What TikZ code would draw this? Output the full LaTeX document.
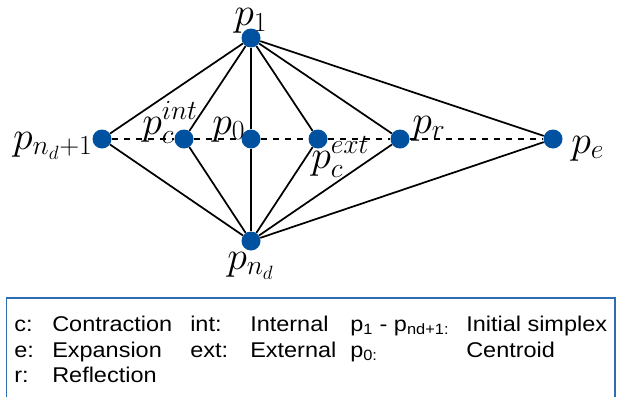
\documentclass[tikz,border=0pt]{standalone}
\usepackage{fontspec}
\newfontfamily\legendfont[FakeStretch=1.1]{Liberation Sans}
\definecolor{dotblue}{HTML}{0052A0}
\definecolor{boxblue}{HTML}{2E6DB4}
\newcommand{\bigmath}[1]{\scalebox{1.2}{$#1$}}
\tikzset{
  pt/.style={circle, fill=dotblue, minimum size=14.25pt, inner sep=0pt},
  lab/.style={font=\fontsize{24}{28}\selectfont, inner sep=0pt},
  leg/.style={font=\legendfont\fontsize{16}{18}\selectfont, inner sep=0pt, anchor=base west},
  edge/.style={line width=1.3pt, black},
  dashedge/.style={line width=1.3pt, black, dash pattern=on 5pt off 4pt},
}
\begin{document}
\begin{tikzpicture}[x=0.75pt,y=-0.75pt]
\useasboundingbox (0,0) rectangle (617,396);
% points
\node[pt] (p1)  at (251,38) {};
\node[pt] (pn1) at (102,139) {};
\node[pt] (pci) at (184,139) {};
\node[pt] (p0)  at (251,139) {};
\node[pt] (pce) at (318,139) {};
\node[pt] (pr)  at (400,139) {};
\node[pt] (pe)  at (553,139) {};
\node[pt] (pnd) at (251,241) {};
% dashed axis
\draw[dashedge] (pn1) -- (pci);
\draw[dashedge] (pci) -- (p0);
\draw[dashedge] (p0) -- (pce);
\draw[dashedge] (pce) -- (pr);
\draw[dashedge] (pr) -- (pe);
% solid edges
\foreach \t in {pn1,pci,p0,pce,pr,pe}{
  \draw[edge] (p1) -- (\t);
  \draw[edge] (pnd) -- (\t);
}
% labels
\node[lab, anchor=base west] (l1)   at (234,26)  {\bigmath{p_1}};
\node[lab, anchor=base east] (ln1)  at (93,149)  {\bigmath{p_{n_d+1}}};
\node[lab, anchor=base west] (lci)  at (142,134) {\bigmath{p_c^{int}}};
\node[lab, anchor=base west] (l0)   at (212,134) {\bigmath{p_0}};
\node[lab, anchor=base west] (lce)  at (311,168) {\bigmath{p_c^{ext}}};
\node[lab, anchor=base west] (lr)   at (412,133) {\bigmath{p_r}};
\node[lab, anchor=base west] (le)   at (571,153) {\bigmath{p_e}};
\node[lab, anchor=base west] (lnd)  at (227,269) {\bigmath{p_{n_d}}};
% legend box
\draw[boxblue, line width=1.2pt] (6.3,400) -- (6.3,297.7) -- (615,297.7) -- (615,400);
% legend
\node[leg] (c1) at (14,331) {c:};
\node[leg] (c2) at (52,331) {Contraction};
\node[leg] (c3) at (190,331) {int:};
\node[leg] (c4) at (250,331) {Internal};
\node[leg] (c5) at (350,331) {p\textsubscript{1} - p\textsubscript{nd+1:}};
\node[leg] (c6) at (466,331) {Initial simplex};
\node[leg] (e1) at (14,357) {e:};
\node[leg] (e2) at (52,357) {Expansion};
\node[leg] (e3) at (190,357) {ext:};
\node[leg] (e4) at (250,357) {External};
\node[leg] (e5) at (350,357) {p\textsubscript{0:}};
\node[leg] (e6) at (466,357) {Centroid};
\node[leg] (r1) at (14,382) {r:};
\node[leg] (r2) at (52,382) {Reflection};
\end{tikzpicture}
\end{document}
